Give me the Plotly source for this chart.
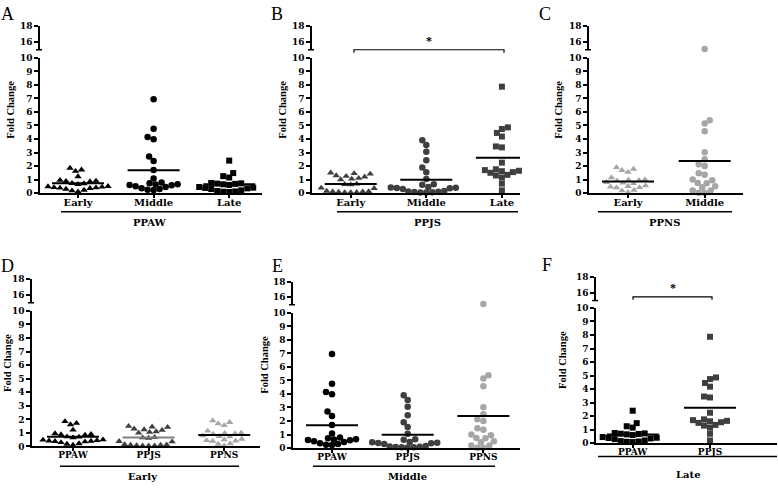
import plotly.graph_objects as go

# ---------------- data (fold change values) ----------------
time_points = ["Early", "Middle", "Late"]
strains = ["PPAW", "PPJS", "PPNS"]

ppaw_early = [1.85, 1.72, 1.62, 1.22, 0.95, 0.9, 0.88, 0.85, 0.72, 0.7, 0.65,
              0.5, 0.48, 0.45, 0.42, 0.4, 0.38, 0.35, 0.3, 0.22, 0.18, 0.1]
ppaw_middle = [6.95, 4.75, 4.15, 3.98, 2.7, 2.38, 1.7, 1.08, 0.78, 0.72,
               0.65, 0.63, 0.6, 0.58, 0.5, 0.45, 0.35, 0.3, 0.25, 0.22]
ppaw_late = [2.4, 1.48, 1.25, 1.15, 0.75, 0.72, 0.7, 0.68, 0.65, 0.6,
             0.45, 0.4, 0.38, 0.35, 0.3, 0.2, 0.15, 0.12, 0.1, 0.08]
ppjs_early = [1.5, 1.45, 1.42, 1.3, 1.25, 1.2, 1.1, 1.05, 1.0, 0.68, 0.65,
              0.62, 0.38, 0.35, 0.15, 0.12, 0.1, 0.1, 0.08, 0.06, 0.05, 0.05]
ppjs_middle = [3.9, 3.55, 3.05, 2.42, 1.9, 1.55, 1.05, 0.65, 0.62, 0.45, 0.42,
               0.4, 0.38, 0.35, 0.3, 0.15, 0.12, 0.1, 0.08, 0.06, 0.05, 0.04]
ppjs_late = [7.87, 4.86, 4.74, 4.45, 4.18, 3.45, 3.38, 2.25, 1.76, 1.7,
             1.62, 1.5, 1.3, 1.15, 1.35, 1.55, 1.65, 0.7, 0.2]
ppns_early = [1.9, 1.78, 1.68, 1.55, 1.15, 1.0, 0.98, 0.95, 0.92, 0.8,
              0.75, 0.72, 0.55, 0.5, 0.45, 0.42, 0.4, 0.22, 0.18, 0.05]
ppns_middle = [15.1, 5.39, 5.14, 4.57, 3.02, 2.5, 2.13, 2.0, 1.47, 1.35,
               1.0, 0.94, 0.75, 0.72, 0.5, 0.43, 0.19, 0.19, 0.03, 0.03]

lower_ticks = list(range(0, 11))
upper_ticks = [16, 18]
significance = "*"

# ---------------- styling / layout helpers ----------------
W, H = 778, 489
BLACK, DARK, LIGHT = "#000000", "#3f3f3f", "#a6a6a6"
SYMBOL = {"Early": "triangle-up", "Middle": "circle", "Late": "square"}
COLOR = {"PPAW": BLACK, "PPJS": DARK, "PPNS": LIGHT}
DATA = {
    ("PPAW", "Early"): ppaw_early, ("PPAW", "Middle"): ppaw_middle, ("PPAW", "Late"): ppaw_late,
    ("PPJS", "Early"): ppjs_early, ("PPJS", "Middle"): ppjs_middle, ("PPJS", "Late"): ppjs_late,
    ("PPNS", "Early"): ppns_early, ("PPNS", "Middle"): ppns_middle,
}
TICKFONT = dict(family="DejaVu Serif", size=9, color="black", weight="bold")
SERIF = "Liberation Serif"


def fx(x):
    return x / W


def fy(y):
    return 1 - y / H


panels = [
    dict(label="A", lab_xy=(8, 9), group="PPAW", kind="strain",
         keys=[("PPAW", t) for t in time_points],
         left=40, right=262, cat0=78, sp=75.6, y0=192, y10=54, y15=45.7, y18=21.7,
         title_x=11, gline=(61, 241, 211), glab=(150, 222), tsize=10),
    dict(label="B", lab_xy=(277, 9), group="PPJS", kind="strain",
         keys=[("PPJS", t) for t in time_points],
         left=312, right=520, cat0=350.7, sp=75.6, y0=192, y10=54, y15=45.7, y18=21.7,
         title_x=283, gline=(337, 518, 211), glab=(427, 222), tsize=10,
         bracket=(354, 504, 45.7)),
    dict(label="C", lab_xy=(545, 9), group="PPNS", kind="strain",
         keys=[("PPNS", t) for t in time_points[:2]],
         left=589, right=743, cat0=628, sp=76.7, y0=192, y10=54, y15=45.7, y18=21.7,
         title_x=559, gline=(598, 732, 211), glab=(664, 222), tsize=10),
    dict(label="D", lab_xy=(7, 266), group="Early", kind="time",
         keys=[(s, "Early") for s in strains],
         left=32, right=260, cat0=73, sp=75.6, y0=450.7, y10=312.3, y15=304, y18=280,
         title_x=8, gline=(60, 239, 471), glab=(143, 481), tsize=9,
         linecolors=[BLACK, "#808080", BLACK]),
    dict(label="E", lab_xy=(277, 266), group="Middle", kind="time",
         keys=[(s, "Middle") for s in strains],
         left=293, right=520, cat0=332, sp=75.7, y0=452.3, y10=314.3, y15=306, y18=282.3,
         title_x=265, gline=(313, 495, 471), glab=(407, 481), tsize=9),
    dict(label="F", lab_xy=(547, 265), group="Late", kind="time",
         keys=[(s, "Late") for s in strains[:2]],
         left=596, right=777, cat0=632.7, sp=77.3, y0=447.3, y10=309.3, y15=301.7, y18=277.3,
         title_x=563, gline=(598, 777, 461), glab=(688, 479), tsize=9,
         bracket=(633, 712, 298)),
]


def swarm(vals, ppu, d=6.0):
    """Simple deterministic beeswarm: returns horizontal pixel offsets."""
    order = sorted(range(len(vals)), key=lambda i: vals[i])
    placed = []
    offs = [0.0] * len(vals)
    flip = 1
    for i in order:
        y = vals[i] * ppu
        k = 0
        while True:
            cands = [0.0] if k == 0 else [flip * k * 0.5, -flip * k * 0.5]
            ok = None
            for c in cands:
                if all((c - px) ** 2 + (y - py) ** 2 >= d * d for px, py in placed):
                    ok = c
                    break
            if ok is not None:
                offs[i] = ok
                placed.append((ok, y))
                flip = -flip
                break
            k += 1
    return offs


fig = go.Figure()
layout = dict(width=W, height=H, margin=dict(l=0, r=0, t=0, b=0),
              paper_bgcolor="white", plot_bgcolor="white", showlegend=False)
annotations, shapes = [], []

for pi, p in enumerate(panels):
    xi = pi + 1
    ylo, yhi = 2 * pi + 1, 2 * pi + 2
    xname = "xaxis" if xi == 1 else f"xaxis{xi}"
    xref = "x" if xi == 1 else f"x{xi}"
    yloref = "y" if ylo == 1 else f"y{ylo}"
    yhiref = f"y{yhi}"
    ylo_name = "yaxis" if ylo == 1 else f"yaxis{ylo}"
    yhi_name = f"yaxis{yhi}"

    sp = p["sp"]
    ppu_lo = (p["y0"] - p["y10"]) / 10.0
    cats = [k[1] if p["kind"] == "strain" else k[0] for k in p["keys"]]
    xr = [(p["left"] - p["cat0"]) / sp, (p["right"] - p["cat0"]) / sp]

    layout[xname] = dict(domain=[fx(p["left"]), fx(p["right"])], range=xr,
                         anchor=yloref, tickvals=list(range(len(cats))), ticktext=cats,
                         showline=True, linecolor="black", linewidth=1.5,
                         ticks="outside", ticklen=3, tickwidth=1.5, tickcolor="black",
                         ticklabelstandoff=-4,
                         tickfont=dict(TICKFONT, size=p["tsize"]),
                         showgrid=False, zeroline=False, fixedrange=True)
    layout[ylo_name] = dict(domain=[fy(p["y0"]), fy(p["y10"])], range=[0, 10],
                            anchor=xref, tickvals=lower_ticks,
                            showline=True, linecolor="black", linewidth=1.5,
                            ticks="outside", ticklen=4, tickwidth=1.5, tickcolor="black",
                            tickfont=TICKFONT, showgrid=False, zeroline=False, fixedrange=True)
    layout[yhi_name] = dict(domain=[fy(p["y15"]), fy(p["y18"])], range=[15, 18],
                            anchor=xref, tickvals=upper_ticks,
                            showline=True, linecolor="black", linewidth=1.5,
                            ticks="outside", ticklen=4, tickwidth=1.5, tickcolor="black",
                            tickfont=TICKFONT, showgrid=False, zeroline=False, fixedrange=True)

    has_upper = False
    for ci, key in enumerate(p["keys"]):
        vals = DATA[key]
        strain, tp = key
        color = COLOR[strain]
        sym = SYMBOL[tp]
        lo_vals = [v for v in vals if v <= 10]
        hi_vals = [v for v in vals if v > 10]
        offs = swarm(lo_vals, ppu_lo)
        fig.add_trace(go.Scatter(
            x=[ci + o / sp for o in offs], y=lo_vals, xaxis=xref, yaxis=yloref,
            mode="markers", cliponaxis=False,
            marker=dict(symbol=sym, size=6.5 if sym != "square" else 6, color=color,
                        line=dict(width=0)),
            hoverinfo="y"))
        if hi_vals:
            has_upper = True
            fig.add_trace(go.Scatter(
                x=[ci] * len(hi_vals), y=hi_vals, xaxis=xref, yaxis=yhiref,
                mode="markers", cliponaxis=False,
                marker=dict(symbol=sym, size=6.5, color=color, line=dict(width=0)),
                hoverinfo="y"))
        mean = sum(vals) / len(vals)
        half = 26.0 / sp
        lc = p.get("linecolors", [BLACK] * 3)[ci]
        fig.add_trace(go.Scatter(
            x=[ci - half, ci + half], y=[mean, mean], xaxis=xref, yaxis=yloref,
            mode="lines", cliponaxis=False, line=dict(color=lc, width=2),
            hoverinfo="skip"))
    if not has_upper:
        # empty trace so the upper (broken) axis segment is drawn
        fig.add_trace(go.Scatter(x=[None], y=[None], xaxis=xref, yaxis=yhiref,
                                 mode="markers", hoverinfo="skip"))

    # break mark at the bottom of the upper axis segment
    shapes.append(dict(type="line", xref="paper", yref="paper",
                       x0=fx(p["left"] - 4), x1=fx(p["left"] + 2),
                       y0=fy(p["y15"]), y1=fy(p["y15"]),
                       line=dict(color="black", width=1.5)))
    # group underline
    gx0, gx1, gy = p["gline"]
    shapes.append(dict(type="line", xref="paper", yref="paper",
                       x0=fx(gx0), x1=fx(gx1), y0=fy(gy), y1=fy(gy),
                       line=dict(color="black", width=1.5)))
    annotations.append(dict(text=p["group"], xref="paper", yref="paper",
                            x=fx(p["glab"][0]), y=fy(p["glab"][1]),
                            xanchor="center", yanchor="middle", showarrow=False,
                            font=dict(family="DejaVu Serif", size=10, color="black", weight="bold")))
    # axis title
    annotations.append(dict(text="Fold Change", xref="paper", yref="paper",
                            x=fx(p["title_x"]), y=fy((p["y0"] + p["y18"]) / 2),
                            xanchor="center", yanchor="middle", showarrow=False, textangle=-90,
                            font=dict(family=SERIF, size=10.5, color="black", weight="bold")))
    # panel letter
    annotations.append(dict(text=p["label"], xref="paper", yref="paper",
                            x=fx(p["lab_xy"][0]), y=fy(p["lab_xy"][1]),
                            xanchor="center", yanchor="middle", showarrow=False,
                            font=dict(family=SERIF, size=18, color="black")))
    # significance bracket
    if "bracket" in p:
        bx0, bx1, by = p["bracket"]
        shapes.append(dict(type="path", xref="paper", yref="paper",
                           path=f"M {fx(bx0)} {fy(by + 3)} L {fx(bx0)} {fy(by)} "
                                f"L {fx(bx1)} {fy(by)} L {fx(bx1)} {fy(by + 3)}",
                           line=dict(color="black", width=1.2)))
        annotations.append(dict(text=significance, xref="paper", yref="paper",
                                x=fx((bx0 + bx1) / 2), y=fy(by - 9),
                                xanchor="center", yanchor="middle", showarrow=False,
                                font=dict(family=SERIF, size=12, color="black", weight="bold")))

layout["annotations"] = annotations
layout["shapes"] = shapes
fig.update_layout(**layout)
fig.write_html("out.html", config={"displayModeBar": False},
               post_script="document.body.style.margin='0';document.body.style.overflow='hidden';")
